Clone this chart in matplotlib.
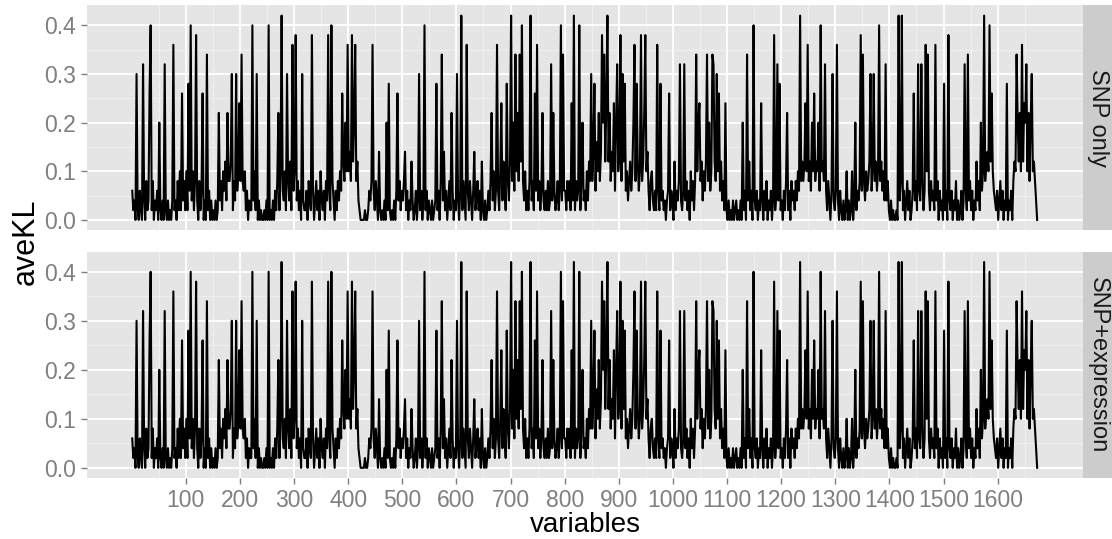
import matplotlib.pyplot as plt
import numpy as np

plt.rcParams['font.family'] = ['Liberation Sans', 'DejaVu Sans']

# aveKL at every 2nd variable (1, 3, 5, ...).
# one character per value: position in LEVELS times 0.02
LEVELS = "0123456789abcdefghijkl"
STEP = 0.02

snp_only_codes = """
3120f10310 g20412dk14 02130a1020 g1020102i1
204151d241 51e3k2514j 20413d020h 1302010201
b2415362b4 46f142f35c 4h43513021 1k251f0201
001020k010 20314b15l3 251f4261i3 5j24130f21
130421j302 4130521304 2j31k42031 4253d64a5i
574j6ai462 1000010013 24i3142071 01020a1e10
10203d2413 2471302162 01302f1302 k130210201
2e1304h271 30241b3021 f203l1420i 3142037124
1306102013 14b2513i31 5c2641e426 l4a3h5b4h6
k4251314l2 41d3i2413b 2131412g2b 312413k2h3
314241c2l1 423k14a231 5264f47e38 5b47jah6cl
6b475c3ag5 7j4f6e3524 635ai4e635 j46bj57314
52131i31e2 312023d132 061324g213 g241305241
4h5ac46253 6h4a35hg64 f5d36241c1 0201020120
1020a130h2 6130k21302 1c20314021 302j13g2e1
20314b1304 2314253l46 46c5i463a5 d465a3k564
g314203f21 3i20310201 50201502a1 324j3h4253
46f35f4635 k46352g241 02010010l2 4l13024130
13d241g32g 413i5h3142 31i2403120 e130j21302
140201302g 31h2413021 6241a35l46 75k6d53213
02413021e0 2130465ha6 b5i6cag5b4 af56420
"""
# the two facets look the same in the picture
snp_expr_codes = snp_only_codes

facets = ["SNP only", "SNP+expression"]
x_ticks = [100, 200, 300, 400, 500, 600, 700, 800, 900, 1000, 1100, 1200, 1300, 1400, 1500, 1600]
y_ticks = [0.0, 0.1, 0.2, 0.3, 0.4]


def decode(codes):
    return np.array([LEVELS.index(c) * STEP for c in "".join(codes.split())])


def style_panel(ax, show_x):
    ax.set_facecolor('#E5E5E5')
    for s in ax.spines.values():
        s.set_visible(False)
    ax.set_xlim(-82.65, 1757.65)
    ax.set_ylim(-0.021, 0.441)
    ax.set_xticks(x_ticks)
    ax.set_xticks([t - 50 for t in x_ticks] + [1650], minor=True)
    ax.set_yticks(y_ticks)
    ax.set_yticklabels([f"{t:.1f}" for t in y_ticks])
    ax.set_yticks([0.05, 0.15, 0.25, 0.35], minor=True)
    ax.grid(True, which='major', color='white', lw=1.3)
    ax.grid(True, which='minor', color='#F2F2F2', lw=0.6)
    ax.set_axisbelow(True)
    ax.tick_params(which='minor', length=0)
    ax.tick_params(which='major', length=4, width=1, color='#7F7F7F',
                   labelcolor='#7F7F7F', labelsize=16.5, pad=4)
    if not show_x:
        ax.tick_params(axis='x', which='major', length=0, labelbottom=False)


fig = plt.figure(figsize=(11.12, 5.39), dpi=100)

panels = [
    (snp_only_codes, [0.0782, 0.573, 0.8957, 0.417], False),
    (snp_expr_codes, [0.0782, 0.113, 0.8957, 0.420], True),
]

for (codes, rect, show_x), name in zip(panels, facets):
    vals = decode(codes)
    x = np.arange(1, 2 * len(vals), 2)
    ax = fig.add_axes(rect)
    style_panel(ax, show_x)
    ax.plot(x, vals, color='black', lw=1.5)

    # facet strip on the right
    strip = fig.add_axes([rect[0] + rect[2], rect[1], 0.027, rect[3]])
    strip.set_facecolor('#CCCCCC')
    strip.set_xticks([])
    strip.set_yticks([])
    for s in strip.spines.values():
        s.set_visible(False)
    strip.text(0.5, 0.5, name, rotation=-90, ha='center', va='center',
               fontsize=17, color='#1A1A1A', transform=strip.transAxes)

fig.text(585 / 1112, 1 - 525 / 539, "variables", ha='center', va='center', fontsize=20)
fig.text(26 / 1112, 1 - 242 / 539, "aveKL", ha='center', va='center', rotation=90, fontsize=22)

fig.savefig('out.png', dpi=100)
